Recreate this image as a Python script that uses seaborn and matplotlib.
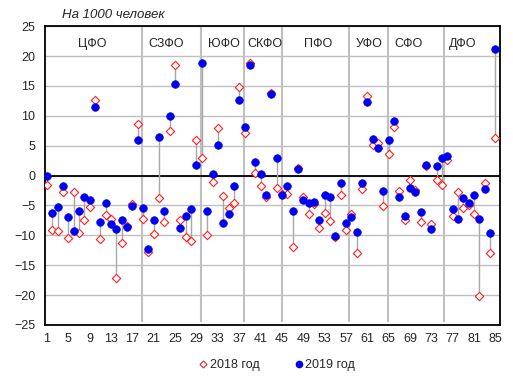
import pandas as pd
import matplotlib.pyplot as plt
import seaborn as sns
from matplotlib.lines import Line2D

regions = list(range(1, 86))
y2018 = [-1.6, -9.1, -9.3, -2.7, -10.4, -2.8, -9.6, -7.4, -5.3, 12.7,
         -10.6, -6.6, -7.2, -17.2, -11.2, -8.4, -4.8, 8.7, -7.3, -12.8,
         -9.8, -3.8, -7.8, 7.4, 18.5, -7.4, -10.2, -11.0, 6.0, 3.0,
         -10.0, -1.1, 8.0, -3.4, -5.5, -4.5, 14.9, 7.1, 18.9, 0.4,
         -1.7, -3.6, 13.9, -2.0, -3.0, -3.1, -12.0, 1.3, -3.6, -6.4,
         -4.8, -8.8, -6.2, -7.6, -10.3, -3.3, -9.1, -6.4, -12.9, -2.2,
         13.3, 5.1, 5.4, -5.1, 3.6, 8.1, -2.5, -7.5, -0.8, -2.4,
         -7.7, 1.6, -8.1, -0.8, -1.5, 2.6, -6.7, -2.8, -5.4, -5.0,
         -6.5, -20.2, -1.2, -13.0, 6.3]
y2019 = [0.0, -6.3, -5.3, -1.8, -7.0, -9.2, -6.0, -3.6, -4.0, 11.5,
         -7.8, -4.6, -8.1, -8.9, -7.4, -8.6, -5.1, 6.0, -5.5, -12.2,
         -7.4, 6.4, -6.0, 10.0, 15.4, -8.8, -6.8, -5.6, 1.7, 18.9,
         -5.9, 0.2, 5.1, -8.0, -6.4, -1.7, 12.6, 8.2, 18.5, 2.2,
         0.2, -3.2, 13.6, 2.9, -3.2, -1.8, -5.9, 1.1, -4.1, -4.5,
         -4.4, -7.5, -3.3, -3.5, -10.1, -1.3, -7.9, -7.0, -9.4, -1.2,
         12.4, 6.2, 4.7, -2.5, 5.9, 9.1, -3.6, -6.8, -2.1, -2.7,
         -6.1, 1.7, -9.0, 1.6, 2.9, 3.2, -5.6, -7.3, -3.8, -4.6,
         -3.2, -7.3, -2.3, -9.6, 21.2]
districts = ["ЦФО", "СЗФО", "ЮФО", "СКФО", "ПФО", "УФО", "СФО", "ДФО"]
district_x = [9.5, 23.4, 34.1, 41.8, 51.7, 61.3, 68.8, 78.8]
separators = [18.8, 29.9, 37.9, 45.0, 57.6, 64.8, 75.4]
xticks = list(range(1, 86, 4))
yticks = list(range(-25, 26, 5))

red = "#ff2020"
blue = "#0000ee"

sns.set_style("white")
plt.rcParams["font.family"] = ["Liberation Sans", "DejaVu Sans"]

df = pd.DataFrame({"region": regions, "y2018": y2018, "y2019": y2019})

fig = plt.figure(figsize=(5.13, 3.9), dpi=100)
ax = fig.add_axes([0.0877, 0.1667, 0.8864, 0.766])

ax.set_yticks(yticks)
ax.yaxis.grid(True, color="#c0c0c0", lw=1)
ax.set_axisbelow(True)
ax.vlines(separators, -24.5, 25, color="#c0c0c0", lw=1.5, zorder=1)
ax.axhline(0, color="black", lw=1.3, zorder=2)
# connectors between the two years
ax.vlines(df.region, df.y2018, df.y2019, color="#a8a8a8", lw=1, zorder=2)

sns.scatterplot(data=df, x="region", y="y2018", marker="D", s=18, color="white",
                edgecolor=red, linewidth=0.8, ax=ax, zorder=3)
sns.scatterplot(data=df, x="region", y="y2019", marker="o", s=30, color=blue,
                edgecolor=blue, linewidth=0.5, ax=ax, zorder=4)

for name, xp in zip(districts, district_x):
    ax.text(xp, 22.1, name, ha="center", va="center", fontsize=9)

ax.set_xlim(0.62, 85.8)
ax.set_ylim(-25, 25)
ax.set_xticks(xticks)
ax.set_xlabel("")
ax.set_ylabel("")
ax.tick_params(axis="both", length=0, labelsize=9)
ax.tick_params(axis="y", pad=7)
ax.tick_params(axis="x", pad=6)
for sp in ax.spines.values():
    sp.set_color("black")
    sp.set_linewidth(1.3)

fig.text(62 / 513, 1 - 15 / 390, "На 1000 человек", style="italic",
         fontsize=9.5, va="center")

handles = [
    Line2D([], [], marker="D", ls="", mfc="white", mec=red, ms=3.5, mew=0.8, label="2018 год"),
    Line2D([], [], marker="o", ls="", color=blue, ms=4.5, label="2019 год"),
]
fig.legend(handles=handles, loc="center", bbox_to_anchor=(277 / 513, 1 - 365 / 390),
           ncol=2, frameon=False, fontsize=9, columnspacing=2.8,
           handlelength=0.7, handletextpad=0.15)

fig.savefig("out.png", dpi=100)
